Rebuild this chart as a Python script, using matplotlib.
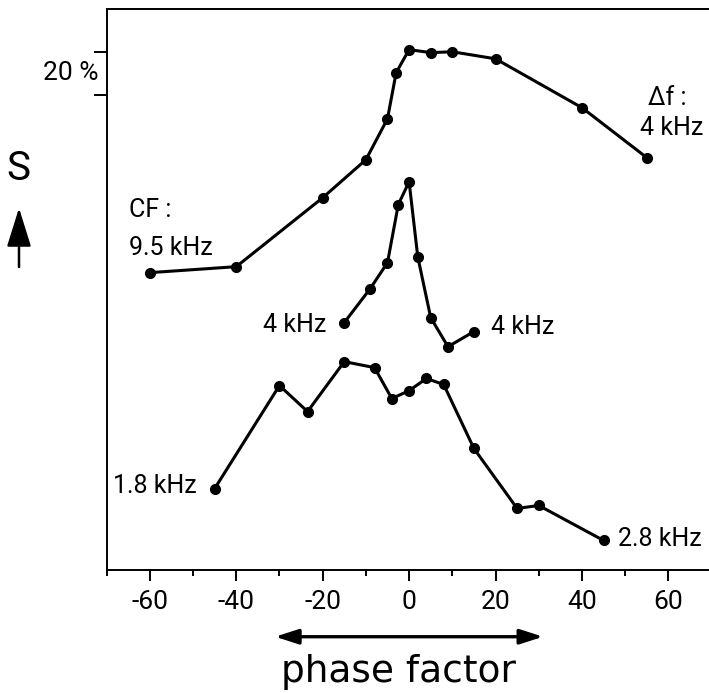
import matplotlib
matplotlib.use("Agg")
import matplotlib.pyplot as plt
from matplotlib.patches import FancyArrowPatch
from matplotlib.ticker import MultipleLocator

plt.rcParams["font.family"] = ["Roboto", "DejaVu Sans"]
plt.rcParams["axes.unicode_minus"] = False

# Phase factor (x) and response S in % (arbitrary vertical offset per curve)
cf95_x = [-60, -40, -20, -10, -5, -3, 0, 5, 10, 20, 40, 55]
cf95_s = [136.6, 139.4, 171.7, 189.5, 208.7, 230.3, 241.1, 239.7, 240.1, 236.8, 213.9, 190.5]

cf4_x = [-15, -9, -5, -2.5, 0, 2, 5, 9, 15]
cf4_s = [113.2, 129.1, 141.3, 168.5, 179.2, 144.1, 115.5, 101.9, 109.0]

low_x = [-45, -30, -23.5, -15, -8, -4, 0, 4, 8, 15, 25, 30, 45]
low_s = [35.4, 83.7, 71.5, 94.9, 92.1, 77.6, 81.3, 87.0, 84.2, 54.2, 26.1, 27.5, 11.1]

xticks = [-60, -40, -20, 0, 20, 40, 60]
scale_bar = [220, 240]  # 20 % scale bar on the S axis

W, H = 709, 693
fig = plt.figure(figsize=(W / 100, H / 100), dpi=100)
ax = fig.add_axes([106.6 / W, (H - 569.5) / H, 605 / W, 560.2 / H])
ax.set_xlim(-70, 70)
ax.set_ylim(-2.5, 260)

line_kw = dict(color="black", lw=2.2, marker="o", ms=7, solid_joinstyle="round")
ax.plot(cf95_x, cf95_s, **line_kw)
ax.plot(cf4_x, cf4_s, **line_kw)
ax.plot(low_x, low_s, **line_kw)

for side in ["left", "bottom", "top"]:
    ax.spines[side].set_linewidth(1.4)
ax.spines["right"].set_visible(False)

ax.set_xticks(xticks)
ax.set_xticklabels([str(t) for t in xticks])
ax.xaxis.set_minor_locator(MultipleLocator(10))
ax.tick_params(axis="x", which="major", direction="out", length=8, width=1.4,
               labelsize=19, pad=7)
ax.tick_params(axis="x", which="minor", direction="out", length=4.5, width=1.4)
ax.set_yticks(scale_bar)
ax.set_yticklabels([])
ax.tick_params(axis="y", which="major", direction="out", length=9.5, width=1.4)
ax.text(-71.8, sum(scale_bar) / 2, "20 %", ha="right", va="center", fontsize=19)

fs = 18
ax.text(-64.8, 166.1, "CF :", ha="left", va="center", fontsize=fs)
ax.text(-64.8, 148.3, "9.5 kHz", ha="left", va="center", fontsize=fs)
ax.text(55.3, 218.6, "Δf :", ha="left", va="center", fontsize=fs)
ax.text(68.1, 204.5, "4 kHz", ha="right", va="center", fontsize=fs)
ax.text(-19.2, 112.3, "4 kHz", ha="right", va="center", fontsize=fs)
ax.text(19.0, 111.3, "4 kHz", ha="left", va="center", fontsize=fs)
ax.text(-49.1, 36.4, "1.8 kHz", ha="right", va="center", fontsize=fs)
ax.text(48.4, 11.6, "2.8 kHz", ha="left", va="center", fontsize=fs)

# Double-headed arrow and label under the x axis
xt = ax.get_xaxis_transform()
ax.annotate("", xy=(31, -0.12), xytext=(-31, -0.12), xycoords=xt, textcoords=xt,
            arrowprops=dict(arrowstyle="<|-|>,head_length=1.4,head_width=0.45",
                            color="black", lw=2.4, shrinkA=0, shrinkB=0),
            annotation_clip=False)
ax.text(-2.5, -0.183, "phase factor", transform=xt, ha="center", va="center",
        fontsize=27, family="DejaVu Sans")

# S label with upward arrow on the left
fig.text(18.5 / W, 1 - 169 / H, "S", ha="center", va="center", fontsize=29)
fig.patches.append(FancyArrowPatch(
    (19 / W, 1 - 267 / H), (19 / W, 1 - 208 / H), transform=fig.transFigure,
    arrowstyle="-|>,head_length=1.6,head_width=0.5", mutation_scale=15,
    color="black", lw=1.8, shrinkA=0, shrinkB=0))

fig.savefig("out.png", dpi=100)
